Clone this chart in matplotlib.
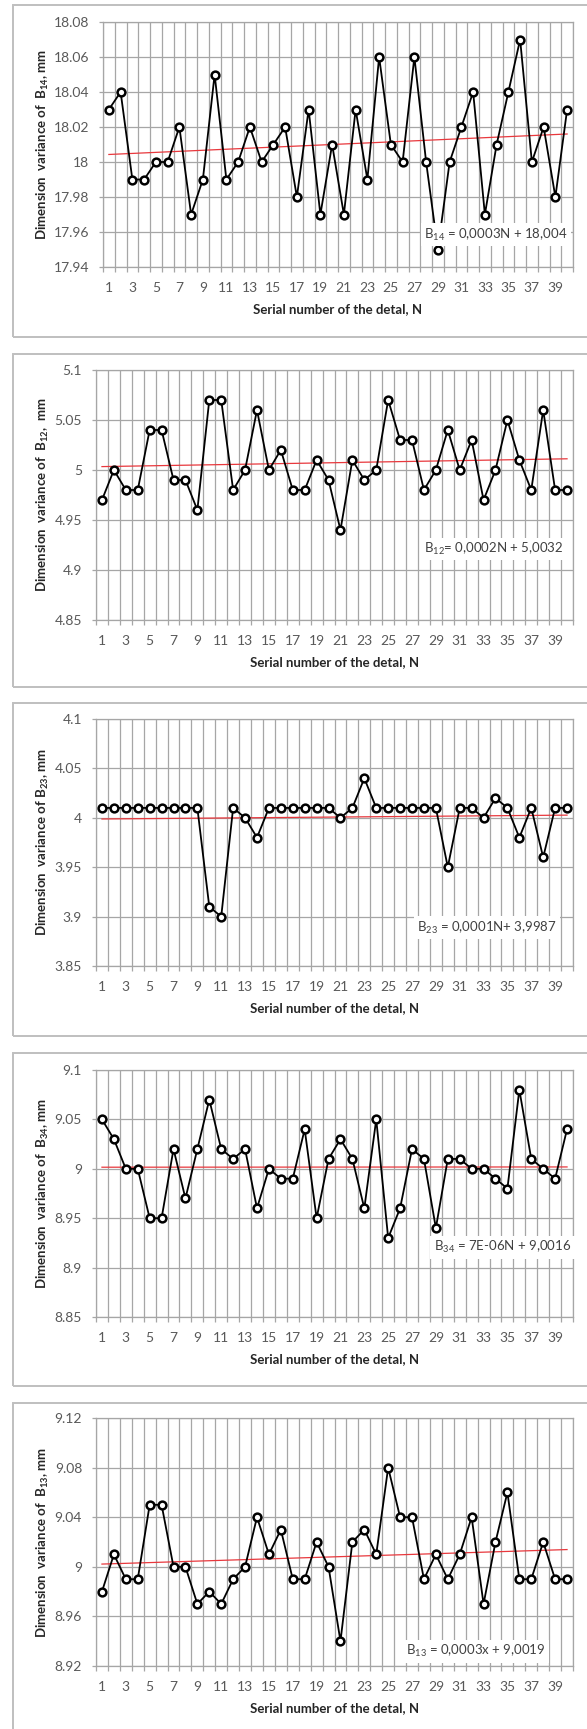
import matplotlib
matplotlib.use("Agg")
import matplotlib.pyplot as plt
from matplotlib.ticker import MultipleLocator, FixedLocator, FuncFormatter
from matplotlib.patches import Rectangle
import numpy as np

plt.rcParams['font.family'] = ['Lato', 'DejaVu Sans']
plt.rcParams['mathtext.fontset'] = 'custom'
plt.rcParams['mathtext.rm'] = 'Lato'
plt.rcParams['mathtext.it'] = 'Lato:italic'
plt.rcParams['mathtext.bf'] = 'Lato:bold'

# ---------------- data ----------------
N = list(range(1, 41))

b14 = [18.03, 18.04, 17.99, 17.99, 18.00, 18.00, 18.02, 17.97, 17.99, 18.05,
       17.99, 18.00, 18.02, 18.00, 18.01, 18.02, 17.98, 18.03, 17.97, 18.01,
       17.97, 18.03, 17.99, 18.06, 18.01, 18.00, 18.06, 18.00, 17.95, 18.00,
       18.02, 18.04, 17.97, 18.01, 18.04, 18.07, 18.00, 18.02, 17.98, 18.03]

b12 = [4.97, 5.00, 4.98, 4.98, 5.04, 5.04, 4.99, 4.99, 4.96, 5.07,
       5.07, 4.98, 5.00, 5.06, 5.00, 5.02, 4.98, 4.98, 5.01, 4.99,
       4.94, 5.01, 4.99, 5.00, 5.07, 5.03, 5.03, 4.98, 5.00, 5.04,
       5.00, 5.03, 4.97, 5.00, 5.05, 5.01, 4.98, 5.06, 4.98, 4.98]

b23 = [4.01, 4.01, 4.01, 4.01, 4.01, 4.01, 4.01, 4.01, 4.01, 3.91,
       3.90, 4.01, 4.00, 3.98, 4.01, 4.01, 4.01, 4.01, 4.01, 4.01,
       4.00, 4.01, 4.04, 4.01, 4.01, 4.01, 4.01, 4.01, 4.01, 3.95,
       4.01, 4.01, 4.00, 4.02, 4.01, 3.98, 4.01, 3.96, 4.01, 4.01]

b34 = [9.05, 9.03, 9.00, 9.00, 8.95, 8.95, 9.02, 8.97, 9.02, 9.07,
       9.02, 9.01, 9.02, 8.96, 9.00, 8.99, 8.99, 9.04, 8.95, 9.01,
       9.03, 9.01, 8.96, 9.05, 8.93, 8.96, 9.02, 9.01, 8.94, 9.01,
       9.01, 9.00, 9.00, 8.99, 8.98, 9.08, 9.01, 9.00, 8.99, 9.04]

b13 = [8.98, 9.01, 8.99, 8.99, 9.05, 9.05, 9.00, 9.00, 8.97, 8.98,
       8.97, 8.99, 9.00, 9.04, 9.01, 9.03, 8.99, 8.99, 9.02, 9.00,
       8.94, 9.02, 9.03, 9.01, 9.08, 9.04, 9.04, 8.99, 9.01, 8.99,
       9.01, 9.04, 8.97, 9.02, 9.06, 8.99, 8.99, 9.02, 8.99, 8.99]

series = [b14, b12, b23, b34, b13]

y_titles = [r"Dimension  variance of  $\mathbf{B_{14}}$, mm",
            r"Dimension  variance of  $\mathbf{B_{12}}$,  mm",
            r"Dimension  variance of $\mathbf{B_{23}}$, mm",
            r"Dimension  variance of  $\mathbf{B_{34}}$, mm",
            r"Dimension  variance of  $\mathbf{B_{13}}$, mm"]
x_title = "Serial number of the detal, N"

trend_slopes = [0.0003, 0.0002, 0.0001, 7e-06, 0.0003]
trend_intercepts = [18.004, 5.0032, 3.9987, 9.0016, 9.0019]
eq_texts = [r"B$_{14}$ = 0,0003N + 18,004",
            r"B$_{12}$= 0,0002N + 5,0032",
            r"B$_{23}$ = 0,0001N+ 3,9987",
            r"B$_{34}$ = 7E-06N + 9,0016",
            r"B$_{13}$ = 0,0003x + 9,0019"]

y_min = [17.94, 4.85, 3.85, 8.85, 8.92]
y_max = [18.08, 5.10, 4.10, 9.10, 9.12]
y_step = [0.02, 0.05, 0.05, 0.05, 0.04]

# ---------------- layout (pixels) ----------------
W, H = 587, 1729
fig = plt.figure(figsize=(W / 100, H / 100), dpi=100)
fig.patch.set_facecolor('white')

plot_boxes = [(103, 22, 573, 267), (96, 370, 573, 620), (96, 719, 573, 966),
              (96, 1070, 573, 1317), (96, 1418, 573, 1666)]
frame_boxes = [(13, 5, 600, 337), (13, 354, 600, 687), (13, 703, 600, 1036),
               (13, 1053, 600, 1386), (13, 1403, 600, 1736)]
eq_pos = [(0.989, 0.131), (0.981, 0.284), (0.966, 0.154), (0.996, 0.283), (0.943, 0.060)]

grid_c = '#a6a6a6'
tick_c = '#595959'
title_c = '#262626'

for (fx0, fy0, fx1, fy1) in frame_boxes:
    fig.patches.append(Rectangle((fx0 / W, 1 - fy1 / H), (fx1 - fx0) / W, (fy1 - fy0) / H,
                                 transform=fig.transFigure, fill=False,
                                 edgecolor='#bfbfbf', lw=1.4, zorder=0))

for i, vals in enumerate(series):
    x0, y0, x1, y1 = plot_boxes[i]
    ax = fig.add_axes([x0 / W, 1 - y1 / H, (x1 - x0) / W, (y1 - y0) / H])
    ax.set_xlim(0.5, 40.5)
    ax.set_ylim(y_min[i], y_max[i])
    ax.set_axisbelow(True)

    # ticks
    ax.yaxis.set_major_locator(MultipleLocator(y_step[i]))
    ax.yaxis.set_major_formatter(FuncFormatter(lambda v, p: '{:g}'.format(round(v, 4))))
    ax.xaxis.set_major_locator(FixedLocator(N[::2]))
    ax.xaxis.set_major_formatter(FuncFormatter(lambda v, p: '{:d}'.format(int(round(v)))))
    ax.xaxis.set_minor_locator(FixedLocator(np.arange(0.5, 41, 1.0)))
    ax.tick_params(axis='x', which='major', length=0, pad=10.5, labelsize=10, labelcolor=tick_c)
    ax.tick_params(axis='x', which='minor', length=3.5, width=0.9, color=grid_c, direction='out')
    ax.tick_params(axis='y', which='major', length=3, width=0.9, color=grid_c, pad=7,
                   labelsize=10, labelcolor=tick_c, direction='out')

    ax.yaxis.grid(True, which='major', color=grid_c, lw=0.9)
    ax.xaxis.grid(True, which='minor', color=grid_c, lw=0.9)
    for s in ax.spines.values():
        s.set_color(grid_c)
        s.set_linewidth(0.9)

    # trend line
    trend = [trend_slopes[i] * n + trend_intercepts[i] for n in N]
    ax.plot(N, trend, color='#e8383d', lw=0.9, zorder=3)

    # series
    ax.plot(N, vals, color='black', lw=1.3, marker='o', ms=5.6, mfc='white',
            mec='black', mew=1.8, zorder=4, clip_on=False)

    # equation
    ax.text(eq_pos[i][0], eq_pos[i][1], eq_texts[i], transform=ax.transAxes,
            ha='right', va='center', fontsize=9.5, color='#404040', zorder=6,
            bbox=dict(facecolor='white', edgecolor='none', pad=2.5))

    # axis titles
    fig.text(43 / W, 1 - ((y0 + y1) / 2) / H, y_titles[i], rotation=90,
             ha='center', va='center', fontsize=9.5, fontweight='bold', color=title_c)
    fig.text(((x0 + x1) / 2) / W, 1 - (y1 + 42) / H, x_title,
             ha='center', va='center', fontsize=9.5, fontweight='bold', color=title_c)

fig.savefig('out.png', dpi=100, facecolor='white')
